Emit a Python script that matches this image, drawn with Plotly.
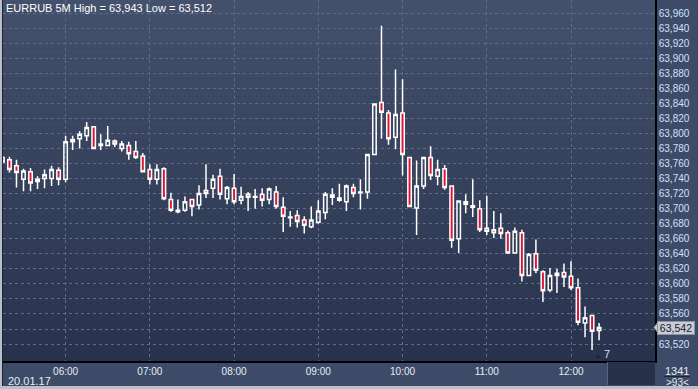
import plotly.graph_objects as go
import pandas as pd

# ---- data (EURRUB 5M, 20.01.17) ----
times = pd.date_range("2017-01-20 05:15", periods=86, freq="5min")

open_ = [63.768, 63.765, 63.757, 63.739, 63.749, 63.736, 63.740, 63.740, 63.751, 63.739,
         63.789, 63.793, 63.797, 63.809, 63.784, 63.784, 63.790, 63.780, 63.784, 63.776,
         63.770, 63.752, 63.739, 63.753, 63.712, 63.696, 63.698, 63.712, 63.705, 63.724,
         63.727, 63.743, 63.713, 63.727, 63.711, 63.719, 63.715, 63.719, 63.712, 63.722,
         63.702, 63.688, 63.691, 63.685, 63.676, 63.682, 63.695, 63.718, 63.714, 63.709,
         63.728, 63.721, 63.722, 63.772, 63.841, 63.827, 63.795, 63.827, 63.768, 63.701,
         63.730, 63.768, 63.743, 63.753, 63.730, 63.660, 63.709, 63.704, 63.700, 63.674,
         63.668, 63.674, 63.668, 63.641, 63.668, 63.611, 63.640, 63.616, 63.592, 63.611,
         63.615, 63.610, 63.595, 63.548, 63.558, 63.538]
high = [63.770, 63.769, 63.765, 63.753, 63.754, 63.743, 63.752, 63.757, 63.755, 63.797,
        63.797, 63.803, 63.815, 63.810, 63.799, 63.810, 63.792, 63.790, 63.789, 63.790,
        63.774, 63.759, 63.759, 63.755, 63.721, 63.712, 63.716, 63.713, 63.731, 63.759,
        63.745, 63.753, 63.730, 63.746, 63.729, 63.722, 63.726, 63.727, 63.728, 63.730,
        63.715, 63.697, 63.698, 63.690, 63.703, 63.711, 63.722, 63.727, 63.733, 63.732,
        63.733, 63.739, 63.773, 63.840, 63.943, 63.831, 63.885, 63.872, 63.769, 63.764,
        63.769, 63.783, 63.765, 63.758, 63.731, 63.711, 63.719, 63.739, 63.711, 63.717,
        63.697, 63.694, 63.671, 63.675, 63.672, 63.641, 63.659, 63.618, 63.621, 63.620,
        63.627, 63.630, 63.607, 63.570, 63.559, 63.548]
low = [63.760, 63.748, 63.728, 63.723, 63.723, 63.726, 63.727, 63.730, 63.731, 63.735,
       63.778, 63.780, 63.790, 63.779, 63.778, 63.784, 63.782, 63.776, 63.765, 63.766,
       63.748, 63.732, 63.732, 63.711, 63.696, 63.694, 63.696, 63.690, 63.699, 63.714,
       63.714, 63.712, 63.706, 63.706, 63.706, 63.697, 63.700, 63.703, 63.706, 63.700,
       63.669, 63.676, 63.675, 63.667, 63.674, 63.680, 63.686, 63.705, 63.709, 63.697,
       63.715, 63.699, 63.713, 63.772, 63.793, 63.785, 63.779, 63.744, 63.702, 63.665,
       63.726, 63.738, 63.731, 63.725, 63.648, 63.641, 63.694, 63.689, 63.669, 63.665,
       63.661, 63.660, 63.640, 63.640, 63.603, 63.610, 63.614, 63.576, 63.589, 63.588,
       63.596, 63.592, 63.545, 63.529, 63.512, 63.525]
close = [63.762, 63.752, 63.748, 63.750, 63.734, 63.739, 63.745, 63.752, 63.739, 63.789,
         63.792, 63.799, 63.808, 63.780, 63.786, 63.791, 63.786, 63.786, 63.773, 63.768,
         63.749, 63.739, 63.752, 63.713, 63.698, 63.698, 63.709, 63.703, 63.720, 63.720,
         63.739, 63.719, 63.728, 63.709, 63.716, 63.715, 63.716, 63.711, 63.726, 63.703,
         63.690, 63.689, 63.683, 63.678, 63.685, 63.697, 63.719, 63.715, 63.711, 63.730,
         63.720, 63.722, 63.772, 63.839, 63.828, 63.793, 63.825, 63.772, 63.703, 63.730,
         63.768, 63.744, 63.752, 63.728, 63.658, 63.710, 63.706, 63.702, 63.672, 63.670,
         63.672, 63.667, 63.641, 63.670, 63.611, 63.639, 63.618, 63.591, 63.611, 63.614,
         63.609, 63.595, 63.549, 63.555, 63.537, 63.542]

hour_ticks = ["2017-01-20 06:00", "2017-01-20 07:00", "2017-01-20 08:00", "2017-01-20 09:00",
              "2017-01-20 10:00", "2017-01-20 11:00", "2017-01-20 12:00"]
hour_labels = ["06:00", "07:00", "08:00", "09:00", "10:00", "11:00", "12:00"]
y_ticks = [63.52, 63.54, 63.56, 63.58, 63.60, 63.62, 63.64, 63.66, 63.68, 63.70, 63.72,
           63.74, 63.76, 63.78, 63.80, 63.82, 63.84, 63.86, 63.88, 63.90, 63.92, 63.94, 63.96]
hidden_tick = 63.54  # label covered by the last-price tag
last_price = 63.542
title_text = "EURRUB 5M High = 63,943 Low = 63,512"
date_text = "20.01.17"

y_labels = ["" if abs(v - hidden_tick) < 1e-9 else ("%.3f" % v).replace(".", ",") for v in y_ticks]

# ---- figure ----
W, H = 698, 389
ML, MR, MT, MB = 3, 43, 0, 28
PW, PH = W - ML - MR, H - MT - MB
FONT = "Liberation Sans, Arial, sans-serif"
BAND = "#3e4b68"

def px(xp):  # pixel x -> paper x
    return (xp - ML) / PW

def py(yp):  # pixel y -> paper y
    return 1 - (yp - MT) / PH

fig = go.Figure()
fig.add_trace(go.Candlestick(
    x=times, open=open_, high=high, low=low, close=close,
    increasing=dict(line=dict(color="#ffffff", width=1.5), fillcolor="rgba(0,0,0,0)"),
    decreasing=dict(line=dict(color="#ffffff", width=1.5), fillcolor="#dc1436"),
    whiskerwidth=0, hoverinfo="skip", showlegend=False,
))

shapes = []
# gradient background of plot area
n = 60
top = (68, 81, 108)
bot = (40, 50, 76)
for i in range(n):
    t = i / (n - 1)
    c = tuple(round(top[k] + (bot[k] - top[k]) * t) for k in range(3))
    shapes.append(dict(type="rect", xref="paper", yref="paper", x0=0, x1=1,
                       y0=1 - (i + 1) / n, y1=1 - i / n, layer="below",
                       fillcolor="rgb(%d,%d,%d)" % c, line=dict(width=0)))
# left light border
shapes.append(dict(type="rect", xref="paper", yref="paper", x0=px(0), x1=px(2),
                   y0=py(H), y1=1, fillcolor="#b9c0cc", line=dict(width=0)))
shapes.append(dict(type="rect", xref="paper", yref="paper", x0=px(2), x1=px(3),
                   y0=py(386), y1=1, fillcolor="#1c2233", line=dict(width=0)))
# bottom light border
shapes.append(dict(type="rect", xref="paper", yref="paper", x0=px(0), x1=px(W),
                   y0=py(H), y1=py(386), fillcolor="#b9c0cc", line=dict(width=0)))
# dark box in x band
shapes.append(dict(type="rect", xref="paper", yref="paper", x0=px(608), x1=px(655),
                   y0=py(385), y1=py(362), fillcolor="#27314a", line=dict(width=0)))
shapes.append(dict(type="line", xref="paper", yref="paper", x0=px(607.5), x1=px(607.5),
                   y0=py(385), y1=py(362), line=dict(color="#56647f", width=1)))
# separator in bottom-right box
shapes.append(dict(type="line", xref="paper", yref="paper", x0=px(664), x1=px(690),
                   y0=py(376.5), y1=py(376.5), line=dict(color="#1e2638", width=1)))
# small triangle near the "7"
shapes.append(dict(type="path", xref="paper", yref="paper",
                   path="M %f %f L %f %f L %f %f Z" % (px(595), py(358), px(601), py(358), px(598), py(354)),
                   fillcolor="#1e2536", line=dict(width=0)))
# price tag arrow
shapes.append(dict(type="path", xref="paper", yref="y",
                   path="M %f %f L %f %f L %f %f Z" % (px(654), last_price, px(659), last_price + 0.009,
                                                        px(659), last_price - 0.009),
                   fillcolor="#c8ccd4", line=dict(color="#8c94a4", width=1)))

annotations = [
    dict(text=title_text, xref="paper", yref="paper", x=px(4), y=py(8), xanchor="left",
         yanchor="middle", showarrow=False, font=dict(family=FONT, size=11, color="#ffffff")),
    dict(text=date_text, xref="paper", yref="paper", x=px(30), y=py(381), xanchor="center",
         yanchor="middle", showarrow=False, font=dict(family=FONT, size=11, color="#e6ecf4")),
    dict(text="7", xref="paper", yref="paper", x=px(607), y=py(354), xanchor="center",
         yanchor="middle", showarrow=False, font=dict(family=FONT, size=11, color="#d0e0f8")),
    dict(text="1341", xref="paper", yref="paper", x=px(677), y=py(371), xanchor="center",
         yanchor="middle", showarrow=False, font=dict(family=FONT, size=11, color="#e6ecf4")),
    dict(text="&gt;93&lt;", xref="paper", yref="paper", x=px(677), y=py(382), xanchor="center",
         yanchor="middle", showarrow=False, font=dict(family=FONT, size=10, color="#e6ecf4")),
    dict(text="63,542", xref="paper", yref="y", x=px(657), y=last_price, xanchor="left",
         yanchor="middle", showarrow=False, bgcolor="#c8ccd4", bordercolor="#8c94a4",
         borderwidth=1, borderpad=0, width=36, height=12, align="center",
         font=dict(family=FONT, size=10.5, color="#141a28")),
]

fig.update_layout(
    width=W, height=H,
    margin=dict(l=ML, r=MR, t=MT, b=MB),
    paper_bgcolor=BAND, plot_bgcolor="#343f5c",
    font=dict(family=FONT, size=10, color="#d0e0f8"),
    shapes=shapes, annotations=annotations,
    hovermode=False,
    xaxis=dict(
        type="date", range=["2017-01-20 05:15:24", "2017-01-20 12:59:50"],
        rangeslider=dict(visible=False),
        tickvals=hour_ticks, ticktext=hour_labels, ticks="",
        tickfont=dict(family=FONT, size=10, color="#e6ecf4"),
        showgrid=True, gridcolor="#5d6c8a", griddash="3px,3px", gridwidth=1,
        showline=True, linecolor="#000000", linewidth=1.5, mirror=False,
        zeroline=False, fixedrange=True,
    ),
    yaxis=dict(
        side="right", range=[63.4975, 63.9773],
        tickvals=y_ticks, ticktext=y_labels, ticks="",
        tickfont=dict(family=FONT, size=10, color="#d0e0f8"),
        showgrid=True, gridcolor="#5d6c8a", griddash="3px,3px", gridwidth=1,
        showline=True, linecolor="#000000", linewidth=1.5,
        zeroline=False, fixedrange=True,
    ),
)

fig.write_html("out.html", config={"displayModeBar": False},
               post_script="document.body.style.margin='0';document.body.style.overflow='hidden';")
